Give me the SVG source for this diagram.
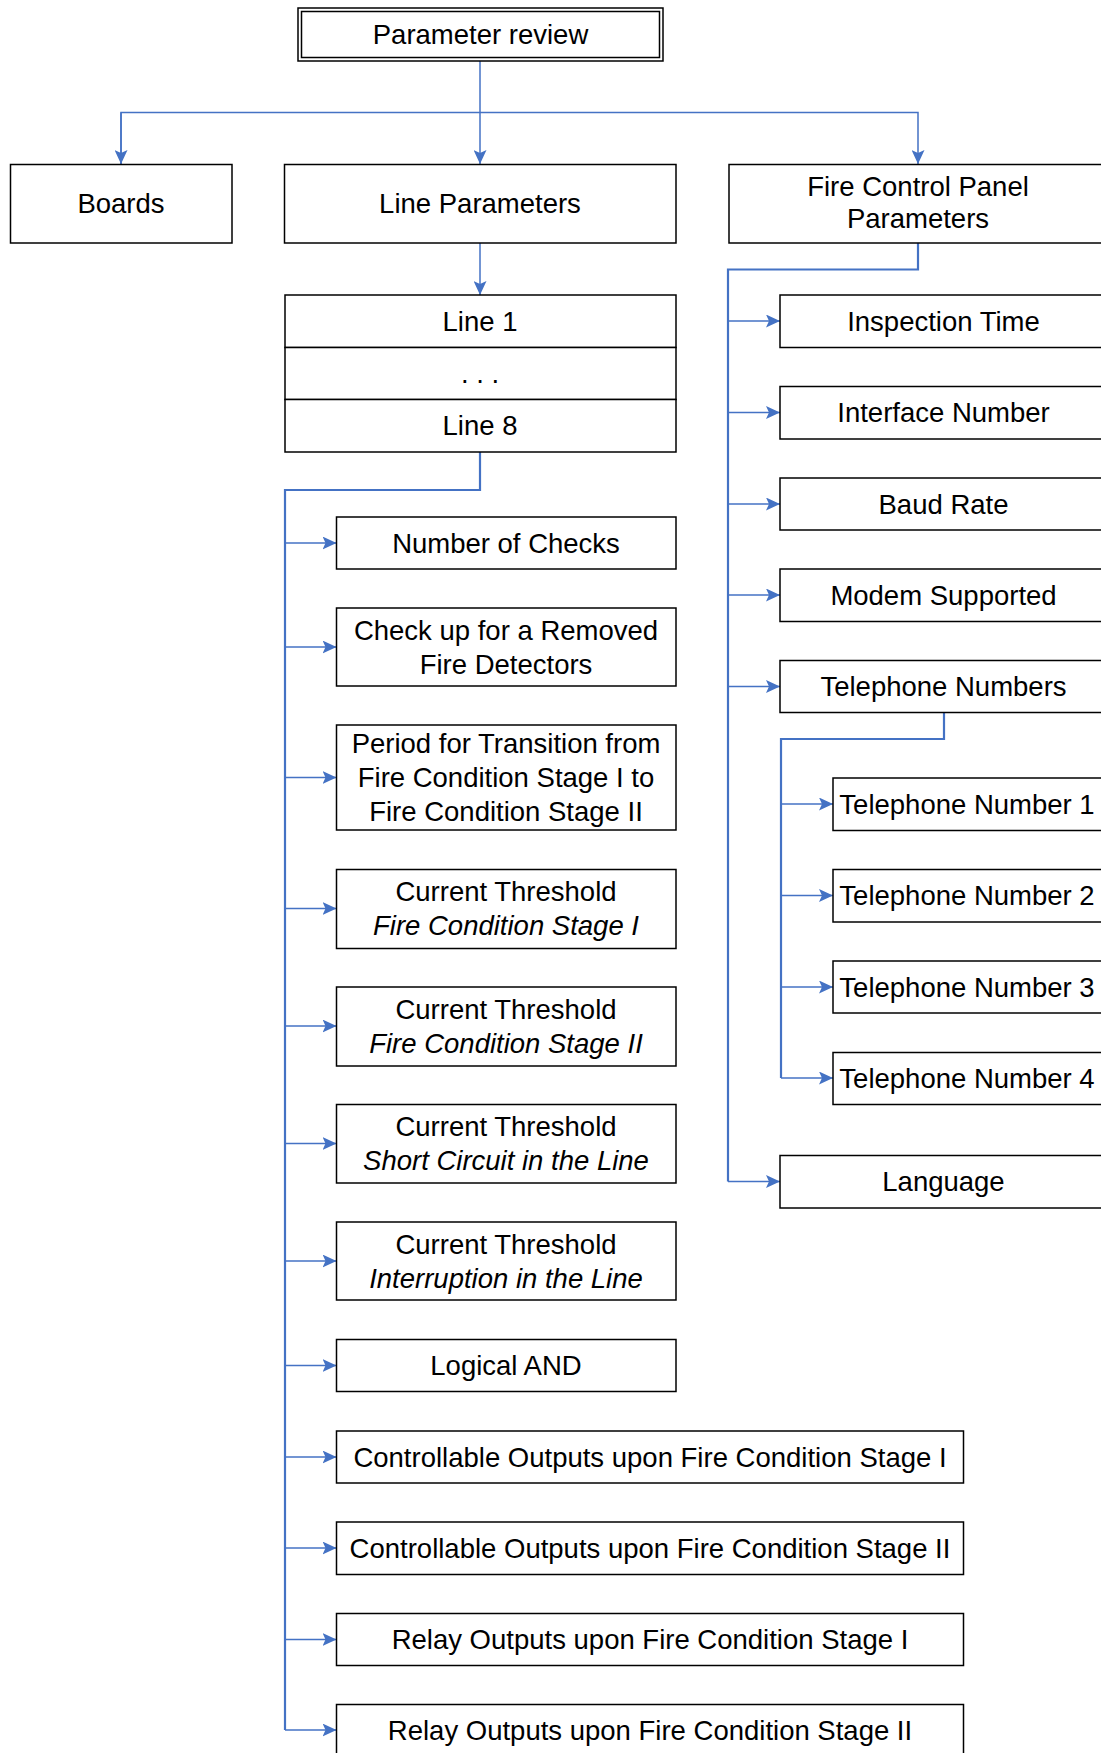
<svg xmlns="http://www.w3.org/2000/svg" width="1101" height="1753" viewBox="0 0 1101 1753">
<style>
.b{fill:#fff;stroke:#000;stroke-width:1.5}
.t{font-family:"Liberation Sans",Arial,sans-serif;font-size:27.5px;fill:#000;text-anchor:middle}
.i{font-style:italic}
.c{fill:none;stroke:#4472C4;stroke-width:1.5}
.k{fill:none;stroke:#4472C4;stroke-width:2.2}
</style>
<defs>
<marker id="ah" markerUnits="userSpaceOnUse" markerWidth="14" markerHeight="13" refX="14" refY="6.5" orient="auto">
<path d="M0,0 L14,6.5 L0,13 L3,6.5 z" fill="#4472C4"/>
</marker>
</defs>
<rect width="1101" height="1753" fill="#fff"/>
<g id="connectors">
<path class="c" d="M480,61 V164" marker-end="url(#ah)"/>
<path class="c" d="M121,164 V112.5 H918 V164" marker-end="url(#ah)"/>
<path class="c" d="M121,112.5 V164" marker-end="url(#ah)"/>
<path class="c" d="M480,243 V295" marker-end="url(#ah)"/>
<path class="k" d="M480,452 V490 H285 V1730"/>
<path class="c" d="M285,543 H336.5" marker-end="url(#ah)"/>
<path class="c" d="M285,647 H336.5" marker-end="url(#ah)"/>
<path class="c" d="M285,777.5 H336.5" marker-end="url(#ah)"/>
<path class="c" d="M285,908.5 H336.5" marker-end="url(#ah)"/>
<path class="c" d="M285,1026 H336.5" marker-end="url(#ah)"/>
<path class="c" d="M285,1143.5 H336.5" marker-end="url(#ah)"/>
<path class="c" d="M285,1261 H336.5" marker-end="url(#ah)"/>
<path class="c" d="M285,1365.5 H336.5" marker-end="url(#ah)"/>
<path class="c" d="M285,1457 H336.5" marker-end="url(#ah)"/>
<path class="c" d="M285,1548 H336.5" marker-end="url(#ah)"/>
<path class="c" d="M285,1639.5 H336.5" marker-end="url(#ah)"/>
<path class="c" d="M285,1730 H336.5" marker-end="url(#ah)"/>
<path class="k" d="M918,243 V269.5 H728 V1181.5"/>
<path class="c" d="M728,321 H780" marker-end="url(#ah)"/>
<path class="c" d="M728,412.5 H780" marker-end="url(#ah)"/>
<path class="c" d="M728,504 H780" marker-end="url(#ah)"/>
<path class="c" d="M728,595 H780" marker-end="url(#ah)"/>
<path class="c" d="M728,686.5 H780" marker-end="url(#ah)"/>
<path class="c" d="M728,1181.5 H780" marker-end="url(#ah)"/>
<path class="k" d="M944,712.5 V739 H781 V1078"/>
<path class="c" d="M781,804 H833" marker-end="url(#ah)"/>
<path class="c" d="M781,895.5 H833" marker-end="url(#ah)"/>
<path class="c" d="M781,987 H833" marker-end="url(#ah)"/>
<path class="c" d="M781,1078 H833" marker-end="url(#ah)"/>
</g>
<g id="n-review">
<rect class="b" x="298" y="8" width="365" height="53"/>
<rect class="b" x="301.5" y="11.5" width="358" height="46"/>
<text class="t" x="480.5" y="44">Parameter review</text>
</g>
<g id="n-boards">
<rect class="b" x="10.5" y="164.5" width="221.5" height="78.5"/>
<text class="t" x="121" y="213">Boards</text>
</g>
<g id="n-lineparams">
<rect class="b" x="284.5" y="164.5" width="391.5" height="78.5"/>
<text class="t" x="480" y="213">Line Parameters</text>
</g>
<g id="n-fcp">
<rect class="b" x="729" y="164.5" width="380" height="78.5"/>
<text class="t" x="918" y="196">Fire Control Panel</text>
<text class="t" x="918" y="228">Parameters</text>
</g>
<g id="n-lines">
<rect class="b" x="285" y="295" width="391" height="52.5"/>
<text class="t" x="480" y="331">Line 1</text>
<rect class="b" x="285" y="347.5" width="391" height="52"/>
<text class="t" x="480" y="383">. . .</text>
<rect class="b" x="285" y="399.5" width="391" height="52.5"/>
<text class="t" x="480" y="435">Line 8</text>
</g>
<g id="n-checks">
<rect class="b" x="336.5" y="517" width="339.5" height="52"/>
<text class="t" x="506" y="552.5">Number of Checks</text>
</g>
<g id="n-removed">
<rect class="b" x="336.5" y="608" width="339.5" height="78"/>
<text class="t" x="506" y="639.5">Check up for a Removed</text>
<text class="t" x="506" y="673.5">Fire Detectors</text>
</g>
<g id="n-period">
<rect class="b" x="336.5" y="725" width="339.5" height="105"/>
<text class="t" x="506" y="753">Period for Transition from</text>
<text class="t" x="506" y="787">Fire Condition Stage I to</text>
<text class="t" x="506" y="820.5">Fire Condition Stage II</text>
</g>
<g id="n-ct1">
<rect class="b" x="336.5" y="869.5" width="339.5" height="79"/>
<text class="t" x="506" y="901">Current Threshold</text>
<text class="t i" x="506" y="935">Fire Condition Stage I</text>
</g>
<g id="n-ct2">
<rect class="b" x="336.5" y="987" width="339.5" height="79"/>
<text class="t" x="506" y="1018.5">Current Threshold</text>
<text class="t i" x="506" y="1052.5">Fire Condition Stage II</text>
</g>
<g id="n-ct3">
<rect class="b" x="336.5" y="1104.5" width="339.5" height="78.5"/>
<text class="t" x="506" y="1136">Current Threshold</text>
<text class="t i" x="506" y="1170">Short Circuit in the Line</text>
</g>
<g id="n-ct4">
<rect class="b" x="336.5" y="1222" width="339.5" height="78"/>
<text class="t" x="506" y="1253.5">Current Threshold</text>
<text class="t i" x="506" y="1287.5">Interruption in the Line</text>
</g>
<g id="n-and">
<rect class="b" x="336.5" y="1339.5" width="339.5" height="52"/>
<text class="t" x="506" y="1375">Logical AND</text>
</g>
<g id="n-co1">
<rect class="b" x="336.5" y="1431" width="627" height="52"/>
<text class="t" x="650" y="1466.5">Controllable Outputs upon Fire Condition Stage I</text>
</g>
<g id="n-co2">
<rect class="b" x="336.5" y="1522" width="627" height="52.5"/>
<text class="t" x="650" y="1557.5">Controllable Outputs upon Fire Condition Stage II</text>
</g>
<g id="n-ro1">
<rect class="b" x="336.5" y="1613.5" width="627" height="52"/>
<text class="t" x="650" y="1649">Relay Outputs upon Fire Condition Stage I</text>
</g>
<g id="n-ro2">
<rect class="b" x="336.5" y="1704.5" width="627" height="52"/>
<text class="t" x="650" y="1740">Relay Outputs upon Fire Condition Stage II</text>
</g>
<g id="n-insp">
<rect class="b" x="780" y="295" width="330" height="52.5"/>
<text class="t" x="943.5" y="330.5">Inspection Time</text>
</g>
<g id="n-iface">
<rect class="b" x="780" y="386.5" width="330" height="52.5"/>
<text class="t" x="943.5" y="422">Interface Number</text>
</g>
<g id="n-baud">
<rect class="b" x="780" y="478" width="330" height="52"/>
<text class="t" x="943.5" y="513.5">Baud Rate</text>
</g>
<g id="n-modem">
<rect class="b" x="780" y="569" width="330" height="52.5"/>
<text class="t" x="943.5" y="604.5">Modem Supported</text>
</g>
<g id="n-tels">
<rect class="b" x="780" y="660.5" width="330" height="52"/>
<text class="t" x="943.5" y="696">Telephone Numbers</text>
</g>
<g id="n-tel1">
<rect class="b" x="833" y="778" width="280" height="52.5"/>
<text class="t" x="967" y="813.5">Telephone Number 1</text>
</g>
<g id="n-tel2">
<rect class="b" x="833" y="869.5" width="280" height="52.5"/>
<text class="t" x="967" y="905">Telephone Number 2</text>
</g>
<g id="n-tel3">
<rect class="b" x="833" y="961" width="280" height="52"/>
<text class="t" x="967" y="996.5">Telephone Number 3</text>
</g>
<g id="n-tel4">
<rect class="b" x="833" y="1052.5" width="280" height="52"/>
<text class="t" x="967" y="1087.5">Telephone Number 4</text>
</g>
<g id="n-lang">
<rect class="b" x="780" y="1155.5" width="330" height="52.5"/>
<text class="t" x="943.5" y="1191">Language</text>
</g>
</svg>
